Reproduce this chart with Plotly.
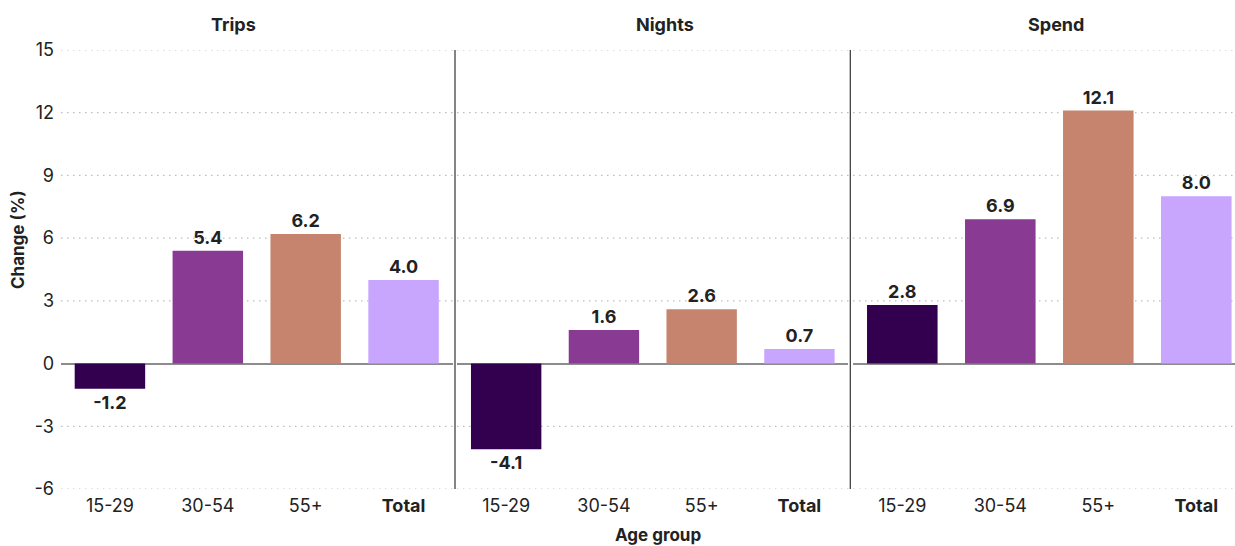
import plotly.graph_objects as go

categories = ["15-29", "30-54", "55+", "Total"]
tick_labels = ["15-29", "30-54", "55+", "<b>Total</b>"]
trips = [-1.2, 5.4, 6.2, 4.0]
nights = [-4.1, 1.6, 2.6, 0.7]
spend = [2.8, 6.9, 12.1, 8.0]
panel_titles = ["Trips", "Nights", "Spend"]
y_ticks = [-6, -3, 0, 3, 6, 9, 12, 15]
y_tick_text = ["-6", "-3", "0", "3", "6", "9", "12", "15"]
colors = ["#32004f", "#893b93", "#c6846e", "#c8a6fe"]

W, H = 1235, 546
L, R, T, B = 61, 0, 50, 57
PW = W - L - R
FONT = "Inter"
TXT = "#222222"

def px(x):
    return (x - L) / PW

domains = [[0, px(452.5)], [px(457.3), px(848.3)], [px(853.3), 1.0]]
ranges = [[-0.5, 3.5], [-0.5, 3.5], [-0.5, -0.5 + (1235 - 853.3) / 98.0]]

fig = go.Figure()
for i, vals in enumerate([trips, nights, spend]):
    sfx = "" if i == 0 else str(i + 1)
    fig.add_trace(go.Bar(
        x=list(range(len(categories))), y=vals, width=0.72,
        marker=dict(color=colors, line=dict(width=0)),
        text=[f"{v:.1f}" for v in vals], textposition="outside",
        textfont=dict(family=FONT, size=18, color=TXT, weight="bold"),
        cliponaxis=False, showlegend=False,
        xaxis="x" + sfx, yaxis="y" + sfx,
        hovertext=categories,
    ))

layout = dict(
    width=W, height=H, margin=dict(l=L, r=R, t=T, b=B),
    plot_bgcolor="white", paper_bgcolor="white",
    font=dict(family=FONT, size=18, color=TXT),
    bargap=0.28,
)
for i in range(3):
    sfx = "" if i == 0 else str(i + 1)
    layout["xaxis" + sfx] = dict(
        domain=domains[i], range=ranges[i], anchor="y" + sfx,
        tickmode="array", tickvals=list(range(len(categories))), ticktext=tick_labels,
        showgrid=False, zeroline=False, showline=False, ticks="",
        tickfont=dict(family=FONT, size=18, color=TXT), ticklabelstandoff=4,
    )
    layout["yaxis" + sfx] = dict(
        range=[-6, 15], anchor="x" + sfx, tickmode="array",
        tickvals=y_ticks, ticktext=y_tick_text,
        showgrid=False, zeroline=True, zerolinecolor="#8c8c8c", zerolinewidth=2,
        showline=False, ticks="", showticklabels=(i == 0),
        tickfont=dict(family=FONT, size=18, color=TXT), ticklabelstandoff=6,
    )
    if i > 0:
        layout["yaxis" + sfx]["matches"] = "y"

shapes = []
for t in y_ticks:
    if t == 0:
        continue
    shapes.append(dict(type="line", xref="paper", yref="y", x0=0, x1=1, y0=t, y1=t,
                       line=dict(color="#bdbdbd", width=1.2, dash="1.5px,4.5px"), layer="below"))
for xd in [455, 850.3]:
    shapes.append(dict(type="line", xref="paper", yref="paper", x0=px(xd), x1=px(xd), y0=0, y1=1,
                       line=dict(color="#333333", width=1.2)))
layout["shapes"] = shapes

annotations = []
for title, cx in zip(panel_titles, [233, 665, 1056]):
    annotations.append(dict(text=f"<b>{title}</b>", xref="paper", yref="paper",
                            x=px(cx), y=1, yshift=26, showarrow=False,
                            font=dict(family=FONT, size=18, color=TXT), xanchor="center", yanchor="middle"))
annotations.append(dict(text="<b>Age group</b>", xref="paper", yref="paper",
                        x=px(657.5), y=0, yshift=-46, showarrow=False,
                        font=dict(family=FONT, size=17, color=TXT), xanchor="center", yanchor="middle"))
annotations.append(dict(text="<b>Change (%)</b>", xref="paper", yref="paper",
                        x=px(18), y=(H - B - 240) / (H - T - B), showarrow=False, textangle=-90,
                        font=dict(family=FONT, size=17, color=TXT), xanchor="center", yanchor="middle"))
layout["annotations"] = annotations

fig.update_layout(**layout)
fig.write_html("out.html", config={"displayModeBar": False},
               post_script="document.body.style.margin='0';document.body.style.overflow='hidden';")
